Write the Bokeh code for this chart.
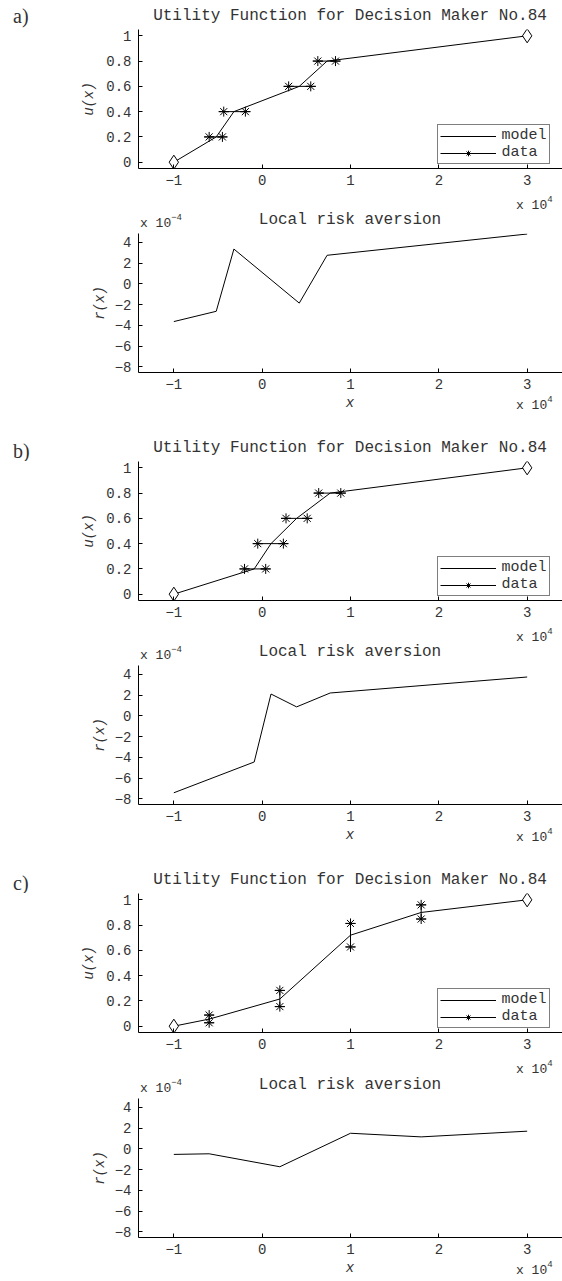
import math
from bokeh.plotting import figure
from bokeh.models import (Range1d, FixedTicker, CustomJSTickFormatter, Div,
                          Legend, LegendItem)
from bokeh.layouts import column
from bokeh.embed import file_html
from bokeh.resources import INLINE

# ---------------- data ----------------
x_ticks = [-10000, 0, 10000, 20000, 30000]
u_ticks = [0, 0.2, 0.4, 0.6, 0.8, 1]
r_ticks = [-8e-4, -6e-4, -4e-4, -2e-4, 0, 2e-4, 4e-4]
anchor_x = [-10000, 30000]
anchor_u = [0, 1]
u_levels = [0, 0.2, 0.4, 0.6, 0.8, 1]

# a) horizontal data intervals
a_model_x = [-10000, -5200, -3200, 4200, 7350, 30000]
a_model_u = u_levels
a_data_u = [0.2, 0.4, 0.6, 0.8]
a_data_x_lo = [-6000, -4350, 3000, 6300]
a_data_x_hi = [-4500, -1900, 5500, 8300]
a_risk = [-3.64e-4, -2.65e-4, 3.35e-4, -1.86e-4, 2.75e-4, 4.8e-4]

# b) horizontal data intervals
b_model_x = [-10000, -900, 1000, 3900, 7700, 30000]
b_model_u = u_levels
b_data_u = [0.2, 0.4, 0.6, 0.8]
b_data_x_lo = [-2000, -500, 2700, 6400]
b_data_x_hi = [400, 2400, 5100, 8900]
b_risk = [-7.42e-4, -4.45e-4, 2.1e-4, 0.86e-4, 2.2e-4, 3.74e-4]

# c) vertical data intervals
c_model_x = [-10000, -6000, 2000, 10000, 18000, 30000]
c_model_u = [0, 0.056, 0.215, 0.72, 0.90, 1]
c_data_x = [-6000, 2000, 10000, 18000]
c_data_u_lo = [0.027, 0.155, 0.627, 0.848]
c_data_u_hi = [0.088, 0.283, 0.813, 0.96]
c_risk = [-0.54e-4, -0.48e-4, -1.73e-4, 1.50e-4, 1.15e-4, 1.70e-4]

tags = ["a)", "b)", "c)"]
title_u = "Utility Function for Decision Maker No.84"
title_r = "Local risk aversion"

# ---------------- style ----------------
XR = (-14000, 34000)
UR = (-0.05, 1.05)
RR = (-8.55e-4, 4.85e-4)
W, FH, BL, BB = 562, 139, 138, 24
FW = W - BL
MONO = "Liberation Mono"
MONO_CSS = "'Liberation Mono', monospace"
SERIF_CSS = "'Liberation Serif', serif"
TXT = "#333333"


def make_fig(yr, ylabel, ystand):
    p = figure(width=W, height=FH + BB,
               x_range=Range1d(*XR), y_range=Range1d(*yr),
               min_border_left=BL, min_border_right=0,
               min_border_top=0, min_border_bottom=BB,
               output_backend="svg", toolbar_location=None)
    p.grid.visible = False
    p.outline_line_color = None
    xa, ya = p.xaxis[0], p.yaxis[0]
    xa.ticker = FixedTicker(ticks=x_ticks)
    xa.formatter = CustomJSTickFormatter(
        code="return String(Math.round(tick/1e4)).replace('-', '\u2212');")
    for ax in (xa, ya):
        ax.major_tick_in = 4
        ax.major_tick_out = 0
        ax.minor_tick_line_color = None
        ax.axis_line_color = "black"
        ax.major_tick_line_color = "black"
        ax.major_label_text_font = MONO
        ax.major_label_text_font_size = "14px"
        ax.major_label_text_color = TXT
    xa.major_label_standoff = 6
    ya.major_label_standoff = 7
    ya.axis_label = ylabel
    ya.axis_label_text_font = MONO
    ya.axis_label_text_font_style = "italic"
    ya.axis_label_text_font_size = "14px"
    ya.axis_label_text_color = TXT
    ya.axis_label_standoff = ystand
    return p


def utility_fig(model_x, model_u, segs, star_x, star_u):
    p = make_fig(UR, "u(x)", 6)
    ya = p.yaxis[0]
    ya.ticker = FixedTicker(ticks=u_ticks)
    ya.formatter = CustomJSTickFormatter(
        code="return tick == 0 ? '0' : (Math.abs(tick-1) < 1e-9 ? '1' : tick.toFixed(1));")
    model_r = p.line(model_x, model_u, line_color="black", line_width=1)
    seg_r = p.segment(x0=segs[0], y0=segs[1], x1=segs[2], y1=segs[3],
                      line_color="black", line_width=1)
    st1 = p.scatter(star_x, star_u, marker="asterisk", size=10,
                    line_color="black", line_width=1)
    st2 = p.scatter(star_x, star_u, marker="dash", size=10,
                    line_color="black", line_width=1)
    p.scatter(anchor_x, anchor_u, marker="diamond", size=14,
              fill_color="white", line_color="black", line_width=1)
    leg = Legend(items=[LegendItem(label="model", renderers=[model_r]),
                        LegendItem(label="data", renderers=[seg_r, st1, st2])],
                 location=(FW - 10.5 - 115, 4), border_line_color="black",
                 border_line_width=1,
                 background_fill_color="white", background_fill_alpha=1.0,
                 label_text_font=MONO, label_text_font_size="15px",
                 label_text_color=TXT, glyph_width=56, glyph_height=14,
                 padding=2, spacing=0, label_standoff=6, margin=0)
    p.add_layout(leg)
    return p


def risk_fig(model_x, risk):
    p = make_fig(RR, "r(x)", 4)
    ya = p.yaxis[0]
    ya.ticker = FixedTicker(ticks=r_ticks)
    ya.formatter = CustomJSTickFormatter(
        code="return String(Math.round(tick*1e4)).replace('-', '\u2212');")
    p.line(model_x, risk, line_color="black", line_width=1)
    return p


# ---------- out-of-frame texts, as HTML strips between the plots ----------
def T(text, x, y, **kw):
    return ("t", text, x, y, kw)


def M(x, y, exp):
    return ("m", exp, x, y, {})


def txt_html(text, x, yc, size=14, family=MONO_CSS, italic=False, center=False):
    top = yc - 0.5 * size
    tr = "transform:translateX(-50%);" if center else ""
    it = "font-style:italic;" if italic else ""
    return (f'<span style="position:absolute;left:{x}px;top:{top:.1f}px;'
            f'font-family:{family};font-size:{size}px;line-height:{size}px;'
            f'color:{TXT};white-space:nowrap;{it}{tr}">{text}</span>')


def render(item, y0):
    kind, text, x, y, kw = item
    if kind == "t":
        return txt_html(text, x, y - y0, **kw)
    sup = (f'<span style="font-size:9px;position:relative;top:-7px;">'
           f'{text}</span>')
    return txt_html("x 10" + sup, x, y - y0, size=13)


def strip(y0, y1, items):
    h = y1 - y0
    inner = "".join(render(it, y0) for it in items)
    html = (f'<div style="position:relative;width:{W}px;height:{h}px;'
            f'margin:0;padding:0;overflow:hidden;">{inner}</div>')
    return Div(text=html, width=W, height=h, margin=0)


def hsegs(u, lo, hi):
    return (lo, u, hi, u)


def vsegs(x, lo, hi):
    return (x, lo, x, hi)


figs_u = [
    utility_fig(a_model_x, a_model_u, hsegs(a_data_u, a_data_x_lo, a_data_x_hi),
                a_data_x_lo + a_data_x_hi, a_data_u + a_data_u),
    utility_fig(b_model_x, b_model_u, hsegs(b_data_u, b_data_x_lo, b_data_x_hi),
                b_data_x_lo + b_data_x_hi, b_data_u + b_data_u),
    utility_fig(c_model_x, c_model_u, vsegs(c_data_x, c_data_u_lo, c_data_u_hi),
                c_data_x + c_data_x, c_data_u_lo + c_data_u_hi),
]
figs_r = [risk_fig(a_model_x, a_risk), risk_fig(b_model_x, b_risk),
          risk_fig(c_model_x, c_risk)]

# page positions (px) of the frame tops
UT = [29, 461, 893]
RT = [233, 665, 1098]
CX = BL + FW / 2

items = []
prev_end = 0
carry = []
for i in range(3):
    ut, rt = UT[i], RT[i]
    tag_y = 16 if i == 0 else ut - 10
    above = carry + [T(tags[i], 13, tag_y, size=20, family=SERIF_CSS),
                     T(title_u, CX, ut - 13.5, size=16, center=True)]
    items.append(strip(prev_end, ut, above))
    items.append(figs_u[i])
    ub = ut + FH + BB
    mid = [M(516, ut + FH + 37, "4"),
           M(140, rt - 10, "\u22124"),
           T(title_r, CX, rt - 13, size=16, center=True)]
    items.append(strip(ub, rt, mid))
    items.append(figs_r[i])
    rb = rt + FH
    prev_end = rb + BB
    carry = [T("x", CX, rb + 31, italic=True, center=True),
             M(516, rb + 33, "4")]

items.append(strip(prev_end, 1279, carry))

layout = column(*items, spacing=0)
open("out.html", "w").write(file_html(layout, INLINE))
